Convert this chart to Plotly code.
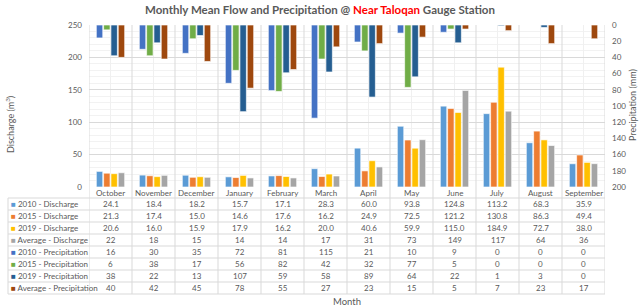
import plotly.graph_objects as go

months = ["October", "November", "December", "January", "February", "March",
          "April", "May", "June", "July", "August", "September"]

d2010 = [24.1, 18.4, 18.2, 15.7, 17.1, 28.3, 60.0, 93.8, 124.8, 113.2, 68.3, 35.9]
d2015 = [21.3, 17.4, 15.0, 14.6, 17.6, 16.2, 24.9, 72.5, 121.2, 130.8, 86.3, 49.4]
d2019 = [20.6, 16.0, 15.9, 17.9, 16.2, 20.0, 40.6, 59.9, 115.0, 184.9, 72.7, 38.0]
davg = [22, 18, 15, 14, 14, 17, 31, 73, 149, 117, 64, 36]

p2010 = [16, 30, 35, 72, 81, 115, 21, 10, 9, 0, 0, 0]
p2015 = [6, 38, 17, 56, 82, 42, 32, 77, 5, 0, 0, 0]
p2019 = [38, 22, 13, 107, 59, 58, 89, 64, 22, 1, 3, 0]
pavg = [40, 42, 45, 78, 55, 27, 23, 15, 5, 7, 23, 17]

discharge = [
    ("2010 - Discharge", d2010, "#5B9BD5", True),
    ("2015 - Discharge", d2015, "#ED7D31", True),
    ("2019 - Discharge", d2019, "#FFC000", True),
    ("Average - Discharge", davg, "#A5A5A5", False),
]
precip = [
    ("2010 - Precipitation", p2010, "#4472C4"),
    ("2015 - Precipitation", p2015, "#70AD47"),
    ("2019 - Precipitation", p2019, "#255E91"),
    ("Average - Precipitation", pavg, "#9E480E"),
]

W, H = 643, 308
L, R, T, B = 89, 605, 25, 187
PW, PH = R - L, B - T
FONT = "Lato, 'Liberation Sans', sans-serif"
GRAY = "#595959"
LINE = "#D9D9D9"


def py(p):  # pixel y -> paper y
    return (B - p) / PH


def px(p):  # pixel x -> paper x
    return (p - L) / PW


fig = go.Figure()
for i, (name, vals, col, _) in enumerate(discharge):
    fig.add_trace(go.Bar(x=months, y=vals, name=name, marker_color=col,
                         marker_line=dict(color="rgba(255,255,255,0.8)", width=0.8),
                         offsetgroup=str(i), yaxis="y"))
for i, (name, vals, col) in enumerate(precip):
    fig.add_trace(go.Bar(x=months, y=vals, name=name, marker_color=col,
                         marker_line=dict(color="rgba(255,255,255,0.8)", width=0.8),
                         offsetgroup=str(i), yaxis="y2"))

shapes = []
annotations = []

row_top = 198
row_h = 12
n_rows = 8
table_bottom = row_top + row_h * n_rows

for r in range(n_rows + 1):
    yy = py(row_top + r * row_h)
    shapes.append(dict(type="line", xref="paper", yref="paper", x0=px(8), x1=1,
                       y0=yy, y1=yy, line=dict(color=LINE, width=1)))
for k in range(len(months) + 1):
    shapes.append(dict(type="line", xref="x", yref="paper", x0=k - 0.5, x1=k - 0.5,
                       y0=1, y1=py(table_bottom), line=dict(color=LINE, width=1)))
shapes.append(dict(type="line", xref="paper", yref="paper", x0=px(8), x1=px(8),
                   y0=py(row_top), y1=py(table_bottom), line=dict(color=LINE, width=1)))


def ann(**kw):
    kw.setdefault("showarrow", False)
    kw.setdefault("xanchor", "center")
    kw.setdefault("yanchor", "middle")
    annotations.append(kw)


for m in months:
    ann(x=m, xref="x", y=py(192.5), yref="paper", text=m,
        font=dict(size=8, color=GRAY, family=FONT))

rows = []
for name, vals, col, dec in discharge:
    txt = [f"{v:.1f}" for v in vals] if dec else [f"{v:d}" for v in vals]
    rows.append((name, col, txt))
for name, vals, col in precip:
    rows.append((name, col, [f"{v:d}" for v in vals]))

for r, (name, col, txt) in enumerate(rows):
    yc = py(row_top + r * row_h + row_h / 2)
    ann(x=px(9), xref="paper", y=yc, yref="paper", xanchor="left",
        text=f"<span style='color:{col}'>■</span> {name}",
        font=dict(size=8, color=GRAY, family=FONT))
    for m, t in zip(months, txt):
        ann(x=m, xref="x", y=yc, yref="paper", text=t,
            font=dict(size=8, color=GRAY, family=FONT))

ann(x=0.5, xref="paper", y=py(301), yref="paper", text="Month",
    font=dict(size=9.5, color=GRAY, family=FONT))
ann(x=px(10), xref="paper", y=py(125), yref="paper",
    text="Discharge (m<sup>3</sup>)", textangle=-90,
    font=dict(size=9, color=GRAY, family=FONT))
ann(x=px(632), xref="paper", y=py(105), yref="paper",
    text="Precipitation (mm)", textangle=-90,
    font=dict(size=9, color=GRAY, family=FONT))
ann(x=px(320), xref="paper", y=py(9), yref="paper",
    text="<b>Monthly Mean Flow and Precipitation @ "
         "<span style='color:#FF0000'>Near Taloqan</span> Gauge Station</b>",
    font=dict(size=11.5, color=GRAY, family=FONT))

fig.update_layout(
    template="none",
    width=W, height=H,
    margin=dict(l=L, r=W - R, t=T, b=H - B, pad=0, autoexpand=False),
    paper_bgcolor="white", plot_bgcolor="white",
    barmode="group", bargap=0.32, bargroupgap=0.12,
    showlegend=False,
    font=dict(family=FONT, color=GRAY, size=8),
    xaxis=dict(type="category", showticklabels=False, showgrid=True,
               gridcolor="#F0F0F0", zeroline=False, showline=False, ticks="",
               range=[-0.5, len(months) - 0.5], automargin=False),
    yaxis=dict(range=[0, 250], dtick=50, showgrid=True, gridcolor=LINE,
               minor=dict(dtick=10, showgrid=True, gridcolor="#F2F2F2"),
               zeroline=False, showline=False, ticks="", automargin=False,
               ticklabelstandoff=6,
               tickfont=dict(size=8, color=GRAY, family=FONT)),
    yaxis2=dict(range=[200, 0], dtick=20, overlaying="y", side="right",
                showgrid=False, zeroline=False, showline=False, ticks="",
                automargin=False, ticklabelstandoff=6,
                tickfont=dict(size=8, color=GRAY, family=FONT)),
    shapes=shapes, annotations=annotations,
)

fig.write_html("out.html",
               config={"displayModeBar": False},
               post_script="document.body.style.margin='0';"
                           "document.body.style.overflow='hidden';")
